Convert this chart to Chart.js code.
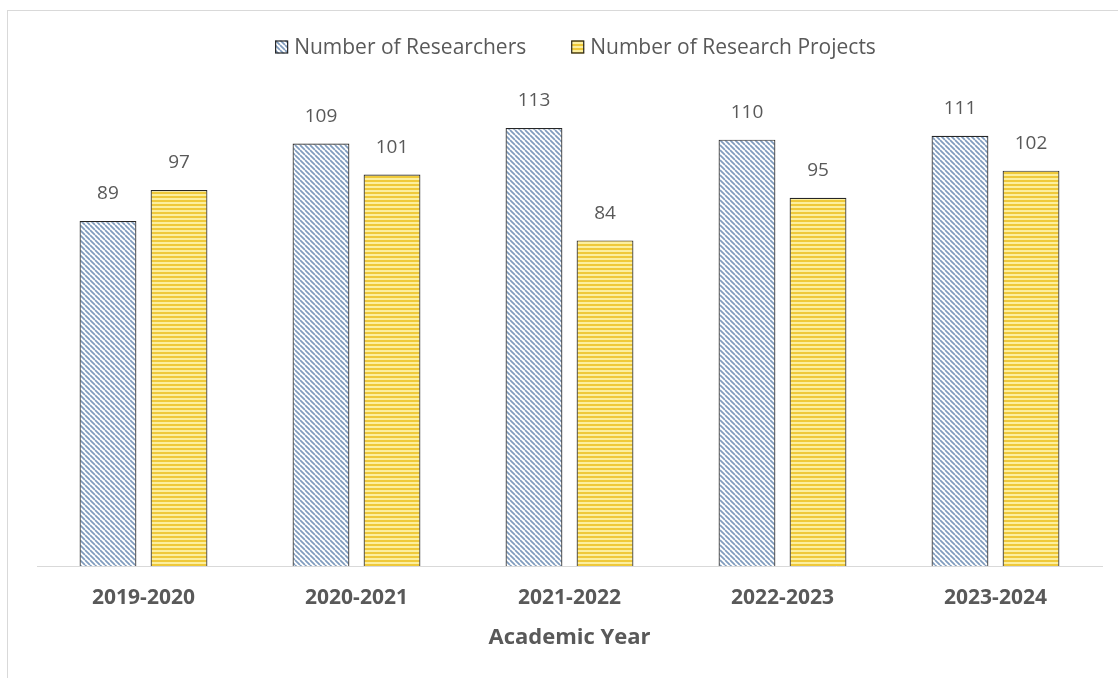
<!DOCTYPE html>
<html>
<head>
<meta charset="utf-8">
<script src="https://cdn.jsdelivr.net/npm/chart.js@4.4.1/dist/chart.umd.min.js"></script>
<style>
  html, body { margin: 0; padding: 0; background: #ffffff; }
  #wrap { position: relative; width: 1118px; height: 678px; overflow: hidden; }
  #frame { position: absolute; left: 7px; top: 10px; width: 1200px; height: 800px; border: 1px solid #d9d9d9; box-sizing: border-box; }
  canvas { position: absolute; left: 0; top: 0; }
</style>
</head>
<body>
<div id="wrap">
  <div id="frame"></div>
  <canvas id="chart" width="1118" height="678"></canvas>
</div>
<script>
// Academic years and the two counts per year
const years = ['2019-2020', '2020-2021', '2021-2022', '2022-2023', '2023-2024'];
const researchers = [89, 109, 113, 110, 111];
const projects = [97, 101, 84, 95, 102];
const seriesNames = ['Number of Researchers', 'Number of Research Projects'];

const FONT = "'Open Sans', 'DejaVu Sans', sans-serif";
const TEXT = '#595959';

// Diagonal hatch: blue-grey lines on white
function diagonalPattern() {
  const s = 5;
  const c = document.createElement('canvas');
  c.width = s; c.height = s;
  const g = c.getContext('2d');
  g.fillStyle = '#ffffff';
  g.fillRect(0, 0, s, s);
  g.strokeStyle = '#7f9bbd';
  g.lineWidth = 1.7;
  g.beginPath();
  for (let k = -1; k <= 1; k++) {
    g.moveTo(k * s, 0);
    g.lineTo(k * s + s, s);
  }
  g.stroke();
  return g.createPattern(c, 'repeat');
}

// Horizontal stripes: two shades of yellow
function stripePattern() {
  const c = document.createElement('canvas');
  c.width = 4; c.height = 4;
  const g = c.getContext('2d');
  g.fillStyle = '#fcef9f';
  g.fillRect(0, 0, 4, 4);
  g.fillStyle = '#efc93a';
  g.fillRect(0, 0, 4, 2);
  return g.createPattern(c, 'repeat');
}

const fills = [diagonalPattern(), stripePattern()];
const EDGE = '#262626';

// Writes each bar's value above it
const valueLabels = {
  id: 'valueLabels',
  afterDatasetsDraw(chart) {
    const ctx = chart.ctx;
    ctx.save();
    ctx.font = '19px ' + FONT;
    ctx.fillStyle = TEXT;
    ctx.textAlign = 'center';
    ctx.textBaseline = 'middle';
    chart.data.datasets.forEach((ds, i) => {
      chart.getDatasetMeta(i).data.forEach((bar, j) => {
        ctx.fillText(String(ds.data[j]), bar.x, bar.y - 27);
      });
    });
    ctx.restore();
  }
};

// Legend row above the plot: patterned swatch followed by series name
const topLegend = {
  id: 'topLegend',
  afterDraw(chart) {
    const ctx = chart.ctx;
    const box = 13, gapText = 6, gapItem = 45, y = 47;
    ctx.save();
    ctx.font = '21px ' + FONT;
    ctx.textBaseline = 'middle';
    ctx.textAlign = 'left';
    const widths = seriesNames.map(n => ctx.measureText(n).width);
    const total = widths.reduce((a, w) => a + box + gapText + w, 0) + gapItem * (seriesNames.length - 1);
    const area = chart.chartArea;
    let x = (area.left + area.right) / 2 + 6 - total / 2;
    seriesNames.forEach((name, i) => {
      ctx.fillStyle = fills[i];
      ctx.fillRect(x, y - box / 2, box, box);
      ctx.strokeStyle = EDGE;
      ctx.lineWidth = 1.2;
      ctx.strokeRect(x + 0.5, y - box / 2 + 0.5, box - 1, box - 1);
      ctx.fillStyle = TEXT;
      ctx.fillText(name, x + box + gapText, y + 1);
      x += box + gapText + widths[i] + gapItem;
    });
    ctx.restore();
  }
};

new Chart(document.getElementById('chart'), {
  type: 'bar',
  data: {
    labels: years,
    datasets: [
      {
        label: seriesNames[0],
        data: researchers,
        backgroundColor: fills[0],
        borderColor: EDGE,
        borderWidth: 1.2
      },
      {
        label: seriesNames[1],
        data: projects,
        backgroundColor: fills[1],
        borderColor: EDGE,
        borderWidth: 1.2
      }
    ]
  },
  options: {
    responsive: false,
    animation: false,
    categoryPercentage: 0.667,
    barPercentage: 0.8,
    layout: { padding: { left: 37, right: 16, top: 81.5, bottom: 26.8 } },
    plugins: {
      legend: { display: false },
      tooltip: { enabled: false }
    },
    scales: {
      x: {
        afterFit(scale) { scale.height = 85.2; },
        grid: { display: false, drawTicks: false },
        border: { display: true, color: '#d9d9d9', width: 1 },
        ticks: {
          color: TEXT,
          font: { family: FONT, size: 21, weight: 'bold' },
          padding: 19.4
        },
        title: {
          display: true,
          text: 'Academic Year',
          color: TEXT,
          font: { family: FONT, size: 22, weight: 'bold' },
          padding: { top: 0, bottom: 0 }
        }
      },
      y: {
        display: false,
        min: 0,
        max: 125
      }
    }
  },
  plugins: [valueLabels, topLegend]
});
</script>
</body>
</html>
